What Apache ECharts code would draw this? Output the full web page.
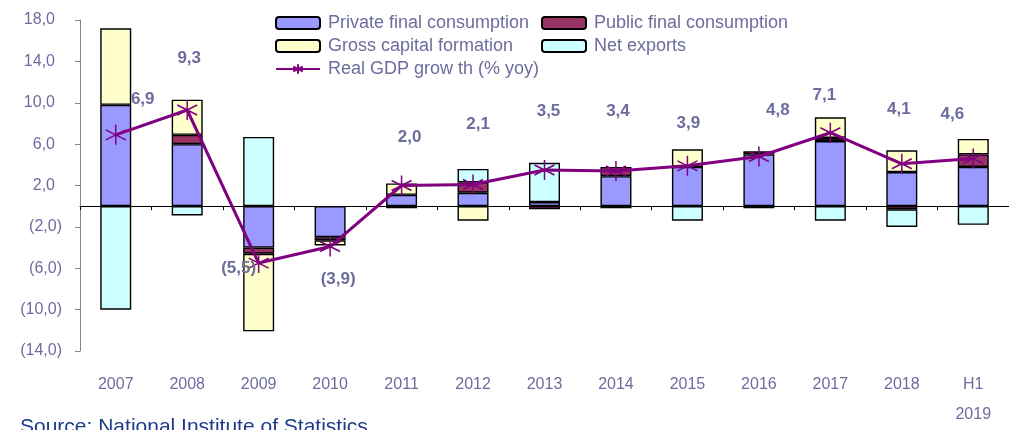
<!DOCTYPE html>
<html>
<head>
    <meta charset="UTF-8">
    <title>Romania GDP growth contributions</title>
    <script src="https://cdn.jsdelivr.net/npm/echarts@6/dist/echarts.min.js"></script>
    <style>
        html, body { margin: 0; padding: 0; background: #fff; }
        #chart { width: 1009px; height: 430px; }
    </style>
</head>
<body>
    <div id="chart"></div>
    <script type="text/javascript">
        // categories
        var years = ['2007', '2008', '2009', '2010', '2011', '2012', '2013', '2014', '2015', '2016', '2017', '2018', 'H1\n2019'];

        // contributions to growth (pp)
        var privateCons = [9.8, 6.0, -4.0, -3.0, 1.1, 1.3, 0.4, 2.9, 3.8, 5.0, 6.3, 3.3, 3.8];
        var publicCons  = [null, 0.9, -0.6, -0.3, null, 1.0, -0.3, 0.9, null, 0.3, 0.3, -0.3, 1.2];
        var grossCap    = [7.4, 3.4, -7.5, -0.5, 1.1, -1.4, null, null, 1.7, null, 2.0, 2.1, 1.5];
        var netExports  = [-10.0, -0.9, 6.7, null, -0.2, 1.3, 3.8, -0.2, -1.4, -0.2, -1.4, -1.7, -1.8];
        var gdpGrowth   = [6.9, 9.3, -5.5, -3.9, 2.0, 2.1, 3.5, 3.4, 3.9, 4.8, 7.1, 4.1, 4.6];

        // y axis ticks
        var yMin = -14, yMax = 18, yStep = 4;

        // where each growth label sits relative to its point (style only)
        var labelShift = [[27, -36], [2, -52], [-20, 5], [8, 33], [8, -48], [5, -60], [4, -59],
                          [2, -60], [1, -43], [19, -46], [-6, -37], [-3, -54], [-21, -44]];

        var txtColor = '#6C6C9E';
        var star = 'path://M0,-10L0,10M-8.7,-5L8.7,5M-8.7,5L8.7,-5';

        function num(v) {
            return Math.abs(v).toFixed(1).replace('.', ',');
        }

        // Excel style: negatives in brackets, positives padded for the bracket
        function yFmt(v) {
            return v < 0 ? '{n|(' + num(v) + ')}' : '{p|' + num(v) + '}';
        }

        function barSeries(name, data, color) {
            return {
                name: name,
                type: 'bar',
                stack: 'c',
                barWidth: 31,
                data: data,
                itemStyle: { color: color, borderColor: '#000', borderWidth: 1.4 }
            };
        }

        var gdpData = gdpGrowth.map(function (v, i) {
            return { value: v, label: { offset: labelShift[i] } };
        });

        var legendText = { color: txtColor, fontSize: 18, lineHeight: 18, padding: [0, 0, 0, 3] };

        var chart = echarts.init(document.getElementById('chart'));

        var option = {
            animation: false,
            textStyle: { fontFamily: 'Liberation Sans, Arial, sans-serif' },
            grid: { left: 80, top: 20, width: 938, height: 335 },
            legend: [
                {
                    left: 270, top: 9, orient: 'vertical', itemGap: 5,
                    itemWidth: 44, itemHeight: 12,
                    data: ['Private final consumption', 'Gross capital formation', 'Real GDP grow th (% yoy)'],
                    textStyle: legendText
                },
                {
                    left: 536, top: 9, orient: 'vertical', itemGap: 5,
                    itemWidth: 44, itemHeight: 12,
                    data: ['Public final consumption', 'Net exports'],
                    textStyle: legendText
                }
            ],
            xAxis: [
                {
                    type: 'category',
                    data: years,
                    position: 'bottom',
                    axisLine: { show: false, onZero: false },
                    axisTick: { show: false },
                    axisLabel: { color: txtColor, fontSize: 16, lineHeight: 30, margin: 19 }
                },
                {
                    type: 'category',
                    data: years,
                    position: 'bottom',
                    axisLine: { onZero: true, lineStyle: { color: '#000', width: 1 } },
                    axisTick: { show: true, length: 4, lineStyle: { color: '#000' } },
                    axisLabel: { show: false }
                }
            ],
            yAxis: {
                type: 'value',
                min: yMin, max: yMax, interval: yStep,
                splitLine: { show: false },
                axisLine: { show: true, lineStyle: { color: '#868686' } },
                axisTick: { show: true, length: 5, lineStyle: { color: '#868686' } },
                axisLabel: {
                    margin: 18,
                    formatter: yFmt,
                    rich: {
                        n: { color: txtColor, fontSize: 16 },
                        p: { color: txtColor, fontSize: 16, padding: [0, 7, 0, 0] }
                    }
                }
            },
            series: [
                barSeries('Private final consumption', privateCons, '#9999FF'),
                barSeries('Public final consumption', publicCons, '#993366'),
                barSeries('Gross capital formation', grossCap, '#FFFFCC'),
                barSeries('Net exports', netExports, '#CCFFFF'),
                {
                    name: 'Real GDP grow th (% yoy)',
                    type: 'line',
                    data: gdpData,
                    z: 5,
                    symbol: star,
                    symbolSize: 20,
                    lineStyle: { color: '#800080', width: 3 },
                    itemStyle: { color: 'none', borderColor: '#800080', borderWidth: 1.5 },
                    label: {
                        show: true,
                        position: 'inside',
                        color: txtColor,
                        fontSize: 17,
                        fontWeight: 'bold',
                        formatter: function (p) {
                            return p.value < 0 ? '(' + num(p.value) + ')' : num(p.value);
                        }
                    }
                }
            ],
            graphic: [
                {
                    type: 'text',
                    left: 20, top: 417,
                    style: { text: 'Source: National Institute of Statistics', fill: '#1F3A8A', fontSize: 21, fontFamily: 'Liberation Sans, Arial, sans-serif' }
                }
            ]
        };

        chart.setOption(option);
    </script>
</body>
</html>
